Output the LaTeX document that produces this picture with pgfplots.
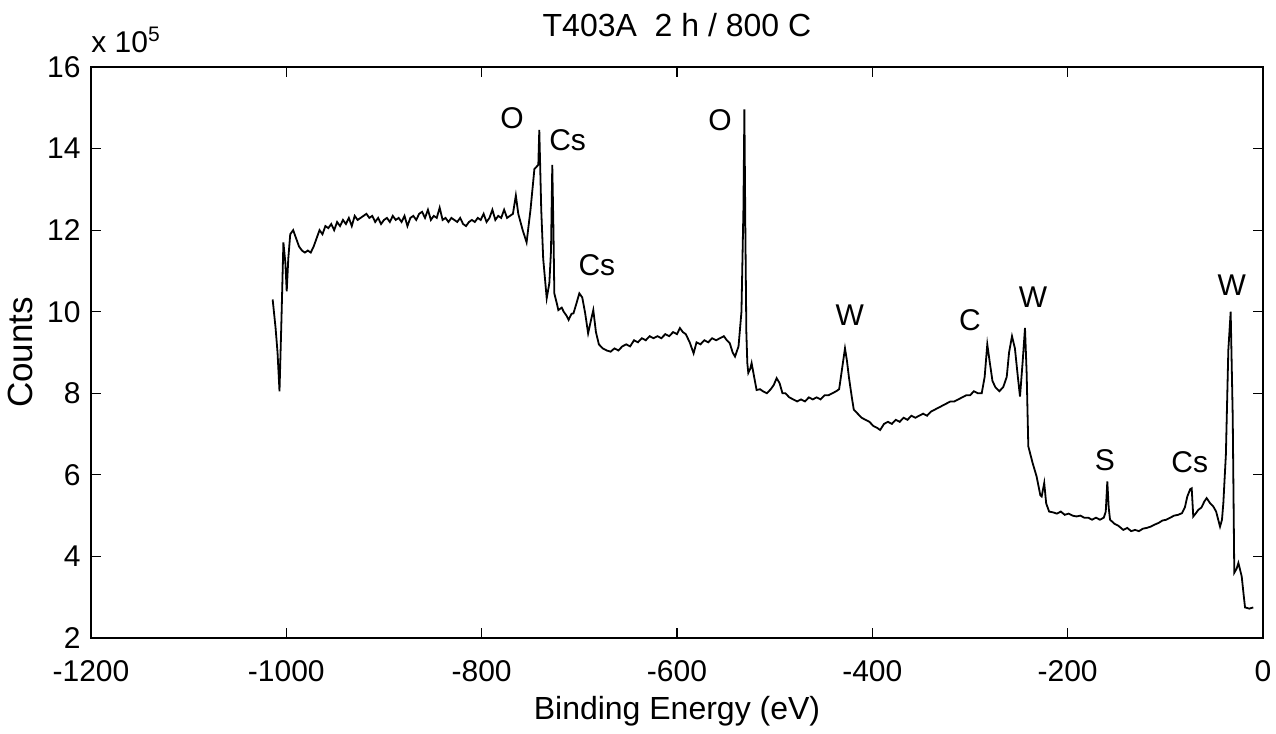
\documentclass[border=0pt]{standalone}
\usepackage{pgfplots}
\pgfplotsset{compat=1.18}
\usepackage{fontspec}
\setmainfont{Liberation Sans}
\begin{document}
\fontsize{15pt}{17pt}\selectfont
\begin{tikzpicture}
\begin{axis}[
  name=ax,
  scale only axis,
  width=586pt, height=285.5pt,
  xmin=-1200, xmax=0, ymin=2, ymax=16,
  xtick={-1200,-1000,...,0}, ytick={2,4,...,16},
  tick align=inside, tick pos=both,
  major tick length=5pt,
  scaled ticks=false,
  /pgf/number format/assume math mode=true,
  /pgf/number format/1000 sep={},
  ticklabel style={font=\fontsize{15pt}{17pt}\selectfont},
  xticklabel style={yshift=-6pt},
  axis line style={line width=0.8pt},
  tick style={line width=0.6pt, black},
  xlabel={Binding Energy (eV)}, ylabel={Counts},
  xlabel style={font=\fontsize{16pt}{18pt}\selectfont, yshift=3pt},
  ylabel style={font=\fontsize{17.5pt}{19pt}\selectfont, yshift=-3pt},
  title={T403A\ \ 2 h / 800 C},
  title style={font=\fontsize{16pt}{18pt}\selectfont, yshift=4pt},
  clip=false,
]
\addplot[black, line width=0.9pt] coordinates {
(-1014,10.3) (-1011,9.6) (-1009,9.0) (-1007,8.05) (-1005,9.8) (-1003,11.7) (-1001,11.2) (-999.6,10.5) (-998,11.3) (-996,11.9) (-993,12.0)
(-990,11.8) (-987,11.6) (-984,11.5) (-981,11.45) (-978,11.5) (-975,11.45) (-972,11.6) (-969,11.8) (-966,12.0) (-963,11.9) (-960,12.1)
(-957,12.05) (-954,12.15) (-951,12.0) (-948,12.2) (-945,12.1) (-942,12.25) (-939,12.15) (-936,12.3) (-933,12.1) (-930,12.35) (-927,12.25)
(-924,12.3) (-921,12.35) (-918,12.4) (-915,12.3) (-912,12.35) (-909,12.2) (-906,12.3) (-903,12.15) (-900,12.25) (-897,12.3) (-894,12.2)
(-891,12.35) (-888,12.25) (-885,12.3) (-882,12.2) (-879,12.35) (-876,12.1) (-873,12.3) (-870,12.35) (-867,12.25) (-864,12.4) (-861,12.45)
(-858,12.3) (-855,12.5) (-852,12.25) (-849,12.35) (-846,12.3) (-843,12.55) (-840,12.25) (-837,12.3) (-834,12.2) (-831,12.3) (-828,12.25)
(-825,12.2) (-822,12.3) (-819,12.15) (-816,12.1) (-813,12.2) (-810,12.25) (-807,12.2) (-804,12.3) (-801,12.25) (-798,12.4) (-795,12.2)
(-792,12.3) (-789,12.5) (-786,12.25) (-783,12.35) (-780,12.3) (-777,12.5) (-774,12.3) (-771,12.35) (-768,12.4) (-765,12.85) (-762.5,12.4)
(-758,12.0) (-754,11.7) (-750,12.5) (-746,13.5) (-742,13.6) (-741,14.46) (-739,12.5) (-737,11.3) (-733.4,10.33) (-730.7,10.7) (-729,11.5)
(-727.7,13.6) (-726.5,12.0) (-725.6,10.45) (-723,10.2) (-721.5,10.04) (-718,10.1) (-716,10.0) (-713,9.9) (-711,9.8) (-708,9.95) (-706,9.96)
(-703,10.2) (-700,10.45) (-697,10.35) (-694,9.96) (-691,9.47) (-688,9.8) (-685.7,10.04) (-683,9.5) (-680,9.2) (-676,9.1) (-672,9.05)
(-668,9.02) (-664,9.1) (-660,9.05) (-656,9.15) (-652,9.2) (-648,9.15) (-644,9.3) (-640,9.25) (-636,9.35) (-632,9.3) (-628,9.4) (-624,9.35)
(-620,9.4) (-616,9.35) (-612,9.45) (-608,9.4) (-604,9.5) (-600,9.45) (-597,9.6) (-594,9.5) (-591,9.45) (-587,9.25) (-583,8.98) (-580,9.25)
(-576,9.2) (-572,9.3) (-568,9.25) (-564,9.35) (-560,9.3) (-556,9.35) (-552,9.4) (-549,9.3) (-546,9.23) (-543,9.0) (-540.6,8.9) (-537,9.15)
(-534,10.0) (-532,12.5) (-531,14.96) (-530,12.0) (-529,9.5) (-528,8.74) (-527,8.5) (-525,8.6) (-523.6,8.74) (-521,8.4) (-518.5,8.08)
(-515,8.1) (-512,8.05) (-508,8.0) (-504,8.1) (-501,8.2) (-498,8.37) (-495,8.25) (-492,8.0) (-489,8.0) (-485,7.9) (-481,7.85) (-477,7.8)
(-473,7.85) (-469,7.8) (-465,7.9) (-461,7.85) (-457,7.9) (-453,7.85) (-449,7.95) (-445,7.95) (-441,8.0) (-437,8.05) (-434,8.1) (-431,8.6)
(-428,9.1) (-426,8.8) (-424,8.4) (-421,7.9) (-419,7.6) (-415,7.5) (-411,7.4) (-407,7.35) (-403,7.3) (-399,7.2) (-395,7.15) (-392,7.1)
(-388,7.25) (-384,7.3) (-380,7.25) (-376,7.35) (-372,7.3) (-368,7.4) (-364,7.35) (-360,7.45) (-356,7.4) (-352,7.45) (-348,7.5) (-344,7.45)
(-340,7.55) (-336,7.6) (-332,7.65) (-328,7.7) (-324,7.75) (-320,7.8) (-316,7.8) (-312,7.85) (-308,7.9) (-304,7.95) (-300,7.95) (-296,8.05)
(-292,8.0) (-288,8.0) (-285,8.4) (-282.3,9.2) (-280,8.8) (-277,8.3) (-274,8.15) (-270,8.05) (-266,8.15) (-262.4,8.4) (-260,9.0) (-257,9.4)
(-254,9.1) (-251,8.4) (-248.8,7.92) (-246,8.8) (-243.7,9.6) (-242,8.5) (-240.3,6.7) (-236,6.3) (-231.8,5.96) (-228,5.5) (-226.6,5.47)
(-224,5.8) (-222,5.3) (-219,5.1) (-215,5.08) (-211,5.05) (-207,5.1) (-203,5.02) (-199,5.05) (-195,5.0) (-191,4.98) (-187,5.0) (-183,4.95)
(-179,4.95) (-175,4.9) (-171,4.95) (-167,4.9) (-163,4.95) (-161,5.1) (-159.4,5.84) (-158,5.2) (-156.6,4.9) (-152,4.8) (-148,4.75) (-143,4.65)
(-139,4.7) (-135,4.62) (-131,4.65) (-127,4.62) (-123,4.68) (-119,4.7) (-115,4.73) (-111,4.78) (-107,4.82) (-103,4.88) (-99,4.9) (-95,4.95)
(-91,5.0) (-87,5.02) (-83,5.06) (-80,5.2) (-77.5,5.47) (-74.5,5.65) (-73,5.67) (-71.4,4.98) (-69,5.05) (-66.3,5.14) (-63,5.2) (-60,5.35)
(-57.7,5.43) (-54,5.3) (-51,5.23) (-48,5.1) (-44,4.73) (-42,4.9) (-40.6,5.31) (-38,6.5) (-35.5,9.06) (-33.1,10.0) (-31,7.43) (-29.4,3.6)
(-27,3.7) (-25.2,3.84) (-21.8,3.51) (-20,3.1) (-18.4,2.75) (-14,2.72) (-10,2.75)
};
\node at (axis cs:-769,14.75) {O};
\node at (axis cs:-712,14.21) {Cs};
\node at (axis cs:-682,11.15) {Cs};
\node at (axis cs:-556,14.7) {O};
\node at (axis cs:-423,9.92) {W};
\node at (axis cs:-300,9.8) {C};
\node at (axis cs:-235.5,10.36) {W};
\node at (axis cs:-162,6.37) {S};
\node at (axis cs:-75,6.32) {Cs};
\node at (axis cs:-32,10.66) {W};
\node[anchor=south west, inner sep=0pt] at ([yshift=7pt]rel axis cs:0,1) {x 10\textsuperscript{5}};
\end{axis}
\pgfresetboundingbox
\path[use as bounding box] ([xshift=-45.5pt,yshift=-48pt]ax.south west) rectangle ([xshift=6.5pt,yshift=33.5pt]ax.north east);
\end{tikzpicture}
\end{document}
